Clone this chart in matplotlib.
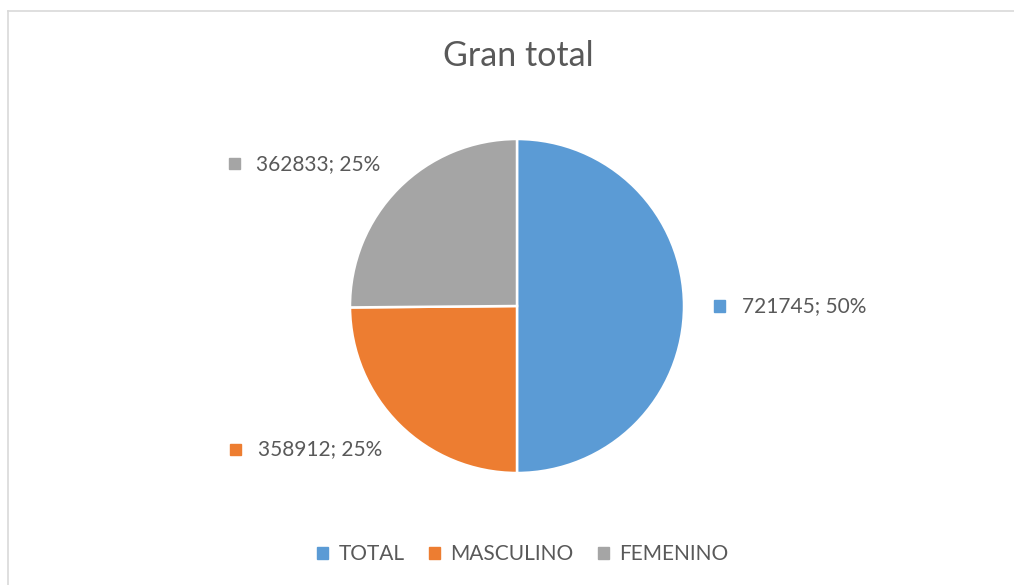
import numpy as np
import matplotlib.pyplot as plt
from matplotlib.lines import Line2D
from matplotlib.patches import Rectangle
from matplotlib.offsetbox import HPacker, TextArea, DrawingArea, AnnotationBbox

categories = ['TOTAL', 'MASCULINO', 'FEMENINO']
values = [721745, 358912, 362833]
colors = ['#5B9BD5', '#ED7D31', '#A5A5A5']
txt_color = '#595959'

plt.rcParams['font.family'] = ['Lato', 'DejaVu Sans']

W, H = 1014, 585
fig = plt.figure(figsize=(W / 100, H / 100), dpi=100)

# chart area border (light gray, top and left visible)
fig.add_artist(Line2D([8 / W, 1], [1 - 11 / H, 1 - 11 / H], color='#D9D9D9', lw=1.2))
fig.add_artist(Line2D([8 / W, 8 / W], [0, 1 - 11 / H], color='#D9D9D9', lw=1.2))

# pie axes: center at (517, 306) px, radius 167 px
R = 167
half = 250
cx, cy = 517, H - 306
ax = fig.add_axes([(cx - half) / W, (cy - half) / H, 2 * half / W, 2 * half / H])
wedges, _ = ax.pie(values, colors=colors, startangle=90, counterclock=False,
                   wedgeprops=dict(edgecolor='white', linewidth=1.8))
lim = half / R
ax.set_xlim(-lim, lim)
ax.set_ylim(-lim, lim)
ax.axis('off')

total = sum(values)
for w, v, c in zip(wedges, values, colors):
    ang = np.deg2rad((w.theta1 + w.theta2) / 2)
    x = np.cos(ang) * (1.18 if np.cos(ang) > 0 else 1.15)
    y = 1.21 * np.sin(ang)
    da = DrawingArea(8, 8)
    da.add_artist(Rectangle((0, 0), 8, 8, color=c))
    ta = TextArea('%d; %d%%' % (v, round(v / total * 100)),
                  textprops=dict(color=txt_color, fontsize=15))
    box = HPacker(children=[da, ta], align='center', pad=0, sep=12)
    ab = AnnotationBbox(box, (x, y), frameon=False,
                        box_alignment=(0 if x > 0 else 1, 0.5), pad=0)
    ax.add_artist(ab)

fig.text(518 / W, 1 - 56 / H, 'Gran total', ha='center', va='center',
         fontsize=24.5, color=txt_color)

handles = [Rectangle((0, 0), 1, 1, color=c) for c in colors]
fig.legend(handles, categories, loc='center', bbox_to_anchor=(523 / W, 1 - 554 / H),
           ncol=3, frameon=False, fontsize=15, labelcolor=txt_color,
           handlelength=0.5, handleheight=0.5, handletextpad=0.5, columnspacing=1.2)

fig.savefig('out.png', dpi=100)
